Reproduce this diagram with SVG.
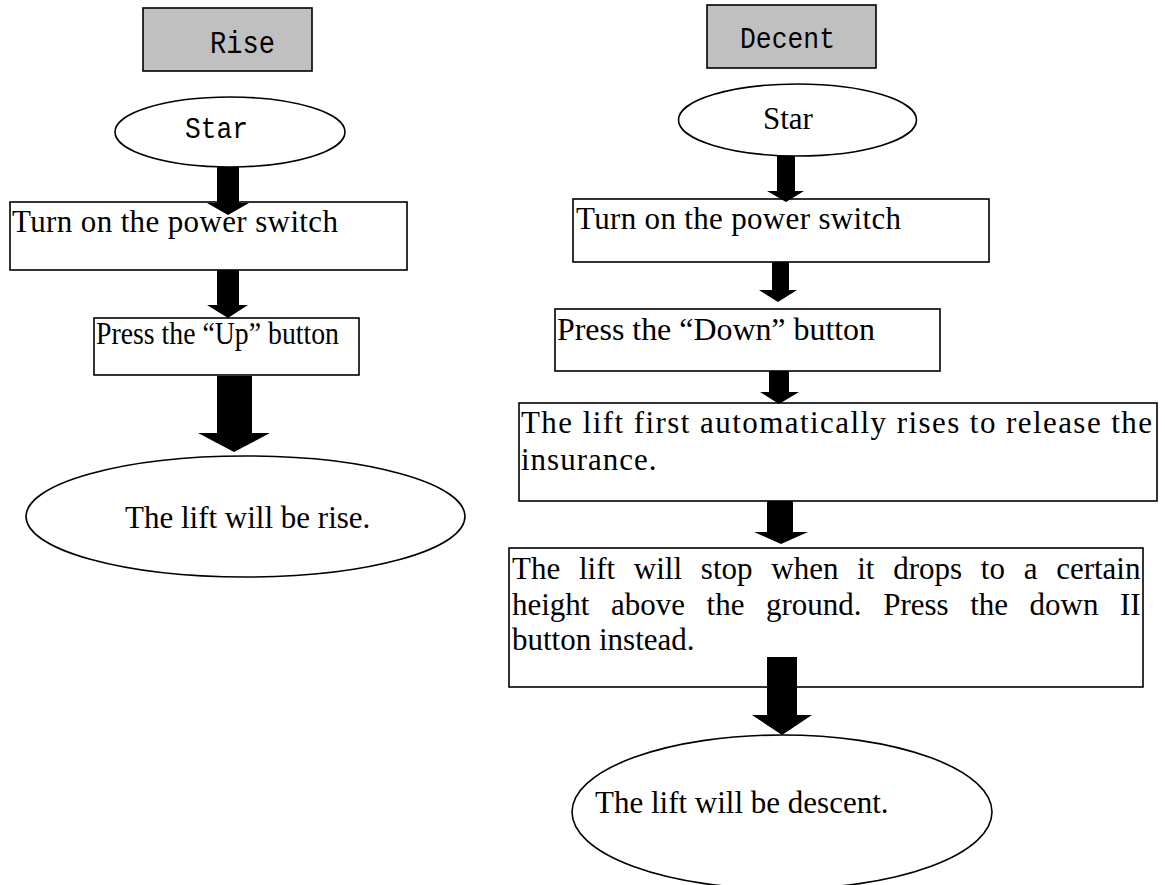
<svg xmlns="http://www.w3.org/2000/svg" width="1165" height="885" viewBox="0 0 1165 885">
<style>
.box{fill:#fff;stroke:#000;stroke-width:1.6}
.hdr{fill:#c0c0c0;stroke:#000;stroke-width:1.6}
.ell{fill:#fff;stroke:#000;stroke-width:1.6}
.mono{font-family:"Liberation Mono","DejaVu Sans Mono",monospace;fill:#000}
.ser{font-family:"Liberation Serif","Times New Roman",serif;font-size:31px;fill:#000}
.arr{fill:#000;stroke:none}
</style>
<rect width="1165" height="885" fill="#fff"/>
<g id="rise-title">
<rect class="hdr" x="143" y="8" width="169" height="63"/>
<text class="mono" x="210" y="53" font-size="31" textLength="65" lengthAdjust="spacingAndGlyphs">Rise</text>
</g>
<g id="rise-start">
<ellipse class="ell" cx="230" cy="132" rx="115" ry="35"/>
<text class="mono" x="185" y="138" font-size="30" fill="#222" textLength="63" lengthAdjust="spacingAndGlyphs">Star</text>
</g>
<g id="rise-power">
<rect class="box" x="10" y="202" width="397" height="68"/>
<text class="ser" x="12" y="232" textLength="326">Turn on the power switch</text>
</g>
<g id="rise-up">
<rect class="box" x="94" y="318" width="265" height="57"/>
<text class="ser" x="96" y="344" font-size="25" textLength="243" lengthAdjust="spacingAndGlyphs">Press the “Up” button</text>
</g>
<g id="rise-end">
<ellipse class="ell" cx="245.5" cy="516.5" rx="219.5" ry="60.5"/>
<text class="ser" x="125" y="528">The lift will be rise.</text>
</g>
<g id="decent-title">
<rect class="hdr" x="707" y="5" width="169" height="63"/>
<text class="mono" x="740" y="48" font-size="30" textLength="95" lengthAdjust="spacingAndGlyphs">Decent</text>
</g>
<g id="decent-start">
<ellipse class="ell" cx="797.5" cy="120" rx="119" ry="36"/>
<text class="ser" x="763" y="129">Star</text>
</g>
<g id="decent-power">
<rect class="box" x="573" y="199" width="416" height="63"/>
<text class="ser" x="576" y="229" textLength="325">Turn on the power switch</text>
</g>
<g id="decent-down">
<rect class="box" x="555" y="309" width="385" height="62"/>
<text class="ser" x="557" y="340" textLength="318" lengthAdjust="spacingAndGlyphs">Press the “Down” button</text>
</g>
<g id="decent-release">
<rect class="box" x="519" y="403" width="638" height="98"/>
<text class="ser" x="521" y="433" textLength="631" lengthAdjust="spacing">The lift first automatically rises to release the</text>
<text class="ser" x="521" y="470" letter-spacing="1">insurance.</text>
</g>
<g id="decent-stop">
<rect class="box" x="509" y="548" width="634" height="139"/>
<text class="ser" x="512" y="579" word-spacing="11">The lift will stop when it drops to a certain</text>
<text class="ser" x="512" y="615" word-spacing="13.8">height above the ground. Press the down II</text>
<text class="ser" x="512" y="650">button instead.</text>
</g>
<g id="decent-end">
<ellipse class="ell" cx="782" cy="812" rx="210" ry="77"/>
<text class="ser" x="595" y="813">The lift will be descent.</text>
</g>
<g id="connectors">
<polygon class="arr" points="217,167 239,167 239,203 249,203 228,215 207,203 217,203"/>
<polygon class="arr" points="217,270 239,270 239,305 248,305 228,318 207,305 217,305"/>
<polygon class="arr" points="217,376 252,376 252,433 270,433 234,452 198,433 217,433"/>
<polygon class="arr" points="777,156 795,156 795,191 804,191 786,202 767,191 777,191"/>
<polygon class="arr" points="772,262 789,262 789,290 797,290 778,302 759,290 772,290"/>
<polygon class="arr" points="769,371 789,371 789,392 799,392 779,404 760,392 769,392"/>
<polygon class="arr" points="767,501 793,501 793,532 808,532 781,544 754,532 767,532"/>
<polygon class="arr" points="767,657 797,657 797,715 812,715 782,735 752,715 767,715"/>
</g>
</svg>
